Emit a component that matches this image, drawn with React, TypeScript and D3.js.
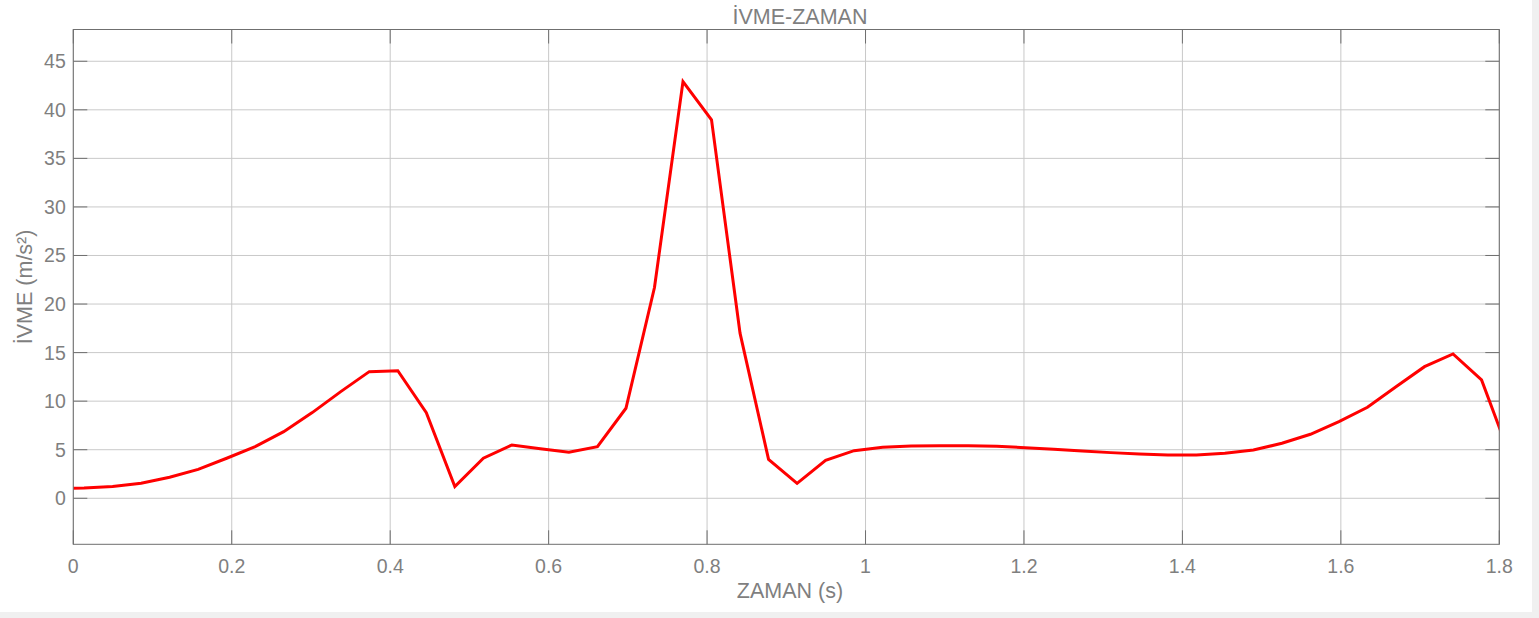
import React, { useEffect, useRef } from 'react';
import * as d3 from 'd3';

// Zaman (s) — samples run a little past both ends of the axis and get clipped
const timeValues = [
  -0.0224, 0.0136, 0.0496, 0.0856, 0.1216, 0.1576, 0.1936, 0.2296, 0.2656, 0.3016,
  0.3376, 0.3736, 0.4096, 0.4456, 0.4816, 0.5176, 0.5536, 0.5896, 0.6256, 0.6616,
  0.6976, 0.7336, 0.7696, 0.8056, 0.8416, 0.8776, 0.9136, 0.9496, 0.9856, 1.0216,
  1.0576, 1.0936, 1.1296, 1.1656, 1.2016, 1.2376, 1.2736, 1.3096, 1.3456, 1.3816,
  1.4176, 1.4536, 1.4896, 1.5256, 1.5616, 1.5976, 1.6336, 1.6696, 1.7056, 1.7416,
  1.7776, 1.8136,
];

// İvme (m/s²)
const accelValues = [
  1.0, 1.05, 1.2, 1.54, 2.16, 2.98, 4.12, 5.31, 6.86, 8.82,
  10.98, 13.04, 13.14, 8.82, 1.2, 4.12, 5.49, 5.11, 4.73, 5.31,
  9.27, 21.7, 42.9, 38.96, 17.0, 4.0, 1.54, 3.9, 4.9, 5.25,
  5.38, 5.42, 5.42, 5.35, 5.21, 5.04, 4.87, 4.7, 4.56, 4.46,
  4.46, 4.63, 4.97, 5.66, 6.59, 7.89, 9.37, 11.49, 13.55, 14.86,
  12.18, 4.35,
];

const xTicks = [0, 0.2, 0.4, 0.6, 0.8, 1, 1.2, 1.4, 1.6, 1.8];
const yTicks = [0, 5, 10, 15, 20, 25, 30, 35, 40, 45];

const W = 1539;
const H = 618;

export default function App() {
  const svgRef = useRef<SVGSVGElement | null>(null);

  useEffect(() => {
    if (!svgRef.current) return;
    const svg = d3.select(svgRef.current);
    svg.selectAll('*').remove();

    const left = 73.3;
    const right = 1499.3;
    const top = 29.5;
    const bottom = 544.3;
    const textColor = '#7f7f7f';
    const boxColor = '#6f6f6f';
    const gridColor = '#c9c9c9';
    const font = 'Arial, "Liberation Sans", Helvetica, sans-serif';
    const tickLen = 14;

    const x = d3.scaleLinear().domain([0, 1.8]).range([left, right]);
    const y = d3.scaleLinear().domain([-4.74, 48.27]).range([bottom, top]);

    // page background and white figure
    svg.append('rect').attr('width', W).attr('height', H).attr('fill', '#f0f0f0');
    svg.append('rect').attr('width', 1532).attr('height', 612).attr('fill', '#ffffff');

    svg
      .append('defs')
      .append('clipPath')
      .attr('id', 'plot-clip')
      .append('rect')
      .attr('x', left)
      .attr('y', top)
      .attr('width', right - left)
      .attr('height', bottom - top);

    // grid
    const grid = svg.append('g').attr('stroke', gridColor).attr('stroke-width', 1);
    xTicks.forEach((t) => {
      grid.append('line').attr('x1', x(t)).attr('x2', x(t)).attr('y1', top).attr('y2', bottom);
    });
    yTicks.forEach((t) => {
      grid.append('line').attr('x1', left).attr('x2', right).attr('y1', y(t)).attr('y2', y(t));
    });

    // ticks (inside, all four sides)
    const ticks = svg.append('g').attr('stroke', boxColor).attr('stroke-width', 1);
    xTicks.forEach((t) => {
      ticks.append('line').attr('x1', x(t)).attr('x2', x(t)).attr('y1', bottom).attr('y2', bottom - tickLen);
      ticks.append('line').attr('x1', x(t)).attr('x2', x(t)).attr('y1', top).attr('y2', top + tickLen);
    });
    yTicks.forEach((t) => {
      ticks.append('line').attr('x1', left).attr('x2', left + tickLen).attr('y1', y(t)).attr('y2', y(t));
      ticks.append('line').attr('x1', right).attr('x2', right - tickLen).attr('y1', y(t)).attr('y2', y(t));
    });

    // data line
    const data = timeValues.map((t, i) => ({ t, v: accelValues[i] }));
    const line = d3
      .line<{ t: number; v: number }>()
      .x((d) => x(d.t))
      .y((d) => y(d.v));

    svg
      .append('path')
      .datum(data)
      .attr('clip-path', 'url(#plot-clip)')
      .attr('fill', 'none')
      .attr('stroke', '#ff0000')
      .attr('stroke-width', 3)
      .attr('stroke-linejoin', 'miter')
      .attr('d', line);

    // box
    svg
      .append('rect')
      .attr('x', left)
      .attr('y', top)
      .attr('width', right - left)
      .attr('height', bottom - top)
      .attr('fill', 'none')
      .attr('stroke', boxColor)
      .attr('stroke-width', 1);

    // tick labels
    const fmt = d3.format('~g');
    svg
      .append('g')
      .selectAll('text')
      .data(xTicks)
      .enter()
      .append('text')
      .attr('x', (d) => x(d))
      .attr('y', 573)
      .attr('text-anchor', 'middle')
      .attr('fill', textColor)
      .style('font-family', font)
      .style('font-size', '19.5px')
      .text((d) => fmt(d));

    svg
      .append('g')
      .selectAll('text')
      .data(yTicks)
      .enter()
      .append('text')
      .attr('x', left - 7.5)
      .attr('y', (d) => y(d) + 7)
      .attr('text-anchor', 'end')
      .attr('fill', textColor)
      .style('font-family', font)
      .style('font-size', '19.5px')
      .text((d) => fmt(d));

    // titles
    svg
      .append('text')
      .attr('x', 800)
      .attr('y', 24)
      .attr('text-anchor', 'middle')
      .attr('fill', textColor)
      .style('font-family', font)
      .style('font-size', '21.5px')
      .text('İVME-ZAMAN');

    svg
      .append('text')
      .attr('x', 790)
      .attr('y', 598)
      .attr('text-anchor', 'middle')
      .attr('fill', textColor)
      .style('font-family', font)
      .style('font-size', '21.5px')
      .text('ZAMAN (s)');

    svg
      .append('text')
      .attr('transform', `translate(32, ${(top + bottom) / 2}) rotate(-90)`)
      .attr('text-anchor', 'middle')
      .attr('fill', textColor)
      .style('font-family', font)
      .style('font-size', '21.5px')
      .text('İVME (m/s²)');
  }, []);

  return (
    <div style={{ position: 'fixed', left: 0, top: 0, width: W, height: H }}>
      <svg ref={svgRef} width={W} height={H} style={{ display: 'block' }} />
    </div>
  );
}
